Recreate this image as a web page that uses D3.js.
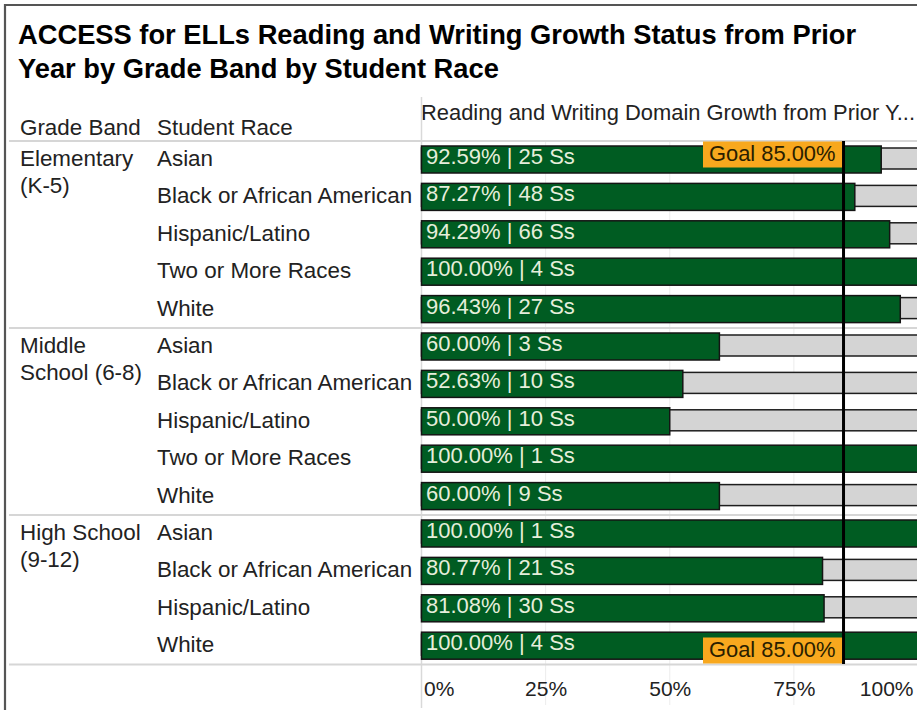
<!DOCTYPE html>
<html>
<head>
<meta charset="utf-8">
<script src="https://cdn.jsdelivr.net/npm/d3@7"></script>
<style>
  html, body { margin: 0; padding: 0; background: #fff; }
  svg { display: block; font-family: "Liberation Sans", Arial, sans-serif; }
</style>
</head>
<body>
<svg id="chart" width="917" height="710"></svg>
<script>
const titleLines = ["ACCESS for ELLs Reading and Writing Growth Status from Prior", "Year by Grade Band by Student Race"];
const gradeBands = ["Elementary (K-5)", "Middle School (6-8)", "High School (9-12)"];
const gradeBandLines = [["Elementary", "(K-5)"], ["Middle", "School (6-8)"], ["High School", "(9-12)"]];
const races = [
  ["Asian", "Black or African American", "Hispanic/Latino", "Two or More Races", "White"],
  ["Asian", "Black or African American", "Hispanic/Latino", "Two or More Races", "White"],
  ["Asian", "Black or African American", "Hispanic/Latino", "White"]
];
const pctValues = [
  [92.59, 87.27, 94.29, 100.00, 96.43],
  [60.00, 52.63, 50.00, 100.00, 60.00],
  [100.00, 80.77, 81.08, 100.00]
];
const studentCounts = [
  [25, 48, 66, 4, 27],
  [3, 10, 10, 1, 9],
  [1, 21, 30, 4]
];
const goal = 85;
const tickValues = [0, 25, 50, 75, 100];
const headerBand = "Grade Band", headerRace = "Student Race";
const headerMeasure = "Reading and Writing Domain Growth from Prior Y...";

// build rows
const rows = [];
gradeBands.forEach((g, gi) => {
  races[gi].forEach((r, ri) => {
    rows.push({band: g, gi, race: r, first: ri === 0, pct: pctValues[gi][ri], n: studentCounts[gi][ri]});
  });
});

const svg = d3.select("#chart");
const FONT = "'Liberation Sans', Arial, sans-serif";
const LBL = 22.4;

const x = d3.scaleLinear().domain([0, 100]).range([421.5, 918]);
const y = d3.scaleBand().domain(d3.range(rows.length)).range([141, 664.6]).padding(0);
const rh = y.bandwidth();

// frame
svg.append("line").attr("x1", 5).attr("x2", 5).attr("y1", 4).attr("y2", 710)
  .attr("stroke", "#555").attr("stroke-width", 2.2);
svg.append("line").attr("x1", 4).attr("x2", 917).attr("y1", 5).attr("y2", 5)
  .attr("stroke", "#555").attr("stroke-width", 2);

// title
svg.append("text").attr("x", 18).attr("font-weight", "bold").attr("font-size", 27.3)
  .attr("fill", "#000")
  .selectAll("tspan").data(titleLines).join("tspan")
  .attr("x", 18).attr("y", (d, i) => 44 + i * 34).text(d => d);

// headers
svg.append("text").attr("x", 20).attr("y", 135).attr("font-size", LBL).attr("fill", "#222").text(headerBand);
svg.append("text").attr("x", 157).attr("y", 135).attr("font-size", LBL).attr("fill", "#222").text(headerRace);
svg.append("text").attr("x", 421).attr("y", 120).attr("font-size", 21.9).attr("fill", "#222").text(headerMeasure);

// gridlines
const grid = svg.append("g");
grid.selectAll("line").data(tickValues.filter(t => t > 0 && t < 100)).join("line")
  .attr("x1", d => x(d)).attr("x2", d => x(d)).attr("y1", 141).attr("y2", 705)
  .attr("stroke", "#ececec").attr("stroke-width", 1);

// axis line (vertical at zero)
svg.append("line").attr("x1", x(0)).attr("x2", x(0)).attr("y1", 97).attr("y2", 708)
  .attr("stroke", "#d9d9d9").attr("stroke-width", 1.5);

// group separators
const sepYs = [141];
let idx = 0;
races.forEach(rs => { idx += rs.length; sepYs.push(y(idx - 1) + rh); });
svg.append("g").selectAll("line").data(sepYs).join("line")
  .attr("x1", 9).attr("x2", 917).attr("y1", d => d).attr("y2", d => d)
  .attr("stroke", "#d6d6d6").attr("stroke-width", 2);

// grade band labels
gradeBandLines.forEach((lines, gi) => {
  const firstIdx = rows.findIndex(r => r.gi === gi);
  svg.append("text").attr("font-size", LBL).attr("fill", "#222")
    .selectAll("tspan").data(lines).join("tspan")
    .attr("x", 20).attr("y", (d, i) => y(firstIdx) + 25 + i * 27).text(d => d);
});

// race labels
svg.append("g").selectAll("text").data(rows).join("text")
  .attr("x", 157).attr("y", (d, i) => y(i) + 25)
  .attr("font-size", LBL).attr("fill", "#222").text(d => d.race);

// background (100%) bars
svg.append("g").selectAll("rect").data(rows).join("rect")
  .attr("x", x(0)).attr("y", (d, i) => y(i) + 7).attr("width", x(100) - x(0)).attr("height", 21)
  .attr("fill", "#d4d4d4").attr("stroke", "#1e1e1e").attr("stroke-width", 1.5);

// value bars
svg.append("g").selectAll("rect").data(rows).join("rect")
  .attr("x", x(0)).attr("y", (d, i) => y(i) + 5).attr("width", d => x(d.pct) - x(0)).attr("height", 27)
  .attr("fill", "#005c22").attr("stroke", "#141414").attr("stroke-width", 1.5);

// value labels
svg.append("g").selectAll("text").data(rows).join("text")
  .attr("x", 426).attr("y", (d, i) => y(i) + 23)
  .attr("font-size", 22).attr("fill", "#e6eedb")
  .text(d => d3.format(".2f")(d.pct) + "% | " + d.n + " Ss");

// goal line
svg.append("line").attr("x1", x(goal)).attr("x2", x(goal)).attr("y1", 141).attr("y2", 664)
  .attr("stroke", "#000").attr("stroke-width", 3);

// goal labels
const goalText = "Goal " + d3.format(".2f")(goal) + "%";
const goalBoxes = [{y0: 141.5, base: 161}, {y0: 637.5, base: 657}];
goalBoxes.forEach(b => {
  svg.append("rect").attr("x", 703).attr("y", b.y0).attr("width", x(goal) - 1.5 - 703).attr("height", 26)
    .attr("fill", "#f8a81e");
  svg.append("text").attr("x", x(goal) - 8).attr("y", b.base).attr("text-anchor", "end")
    .attr("font-size", 21.9).attr("fill", "#2a1e00").text(goalText);
});

// axis
const axis = d3.axisBottom(x).tickValues(tickValues).tickFormat(d => d + "%").tickSize(0).tickPadding(0);
const ag = svg.append("g").attr("transform", "translate(0,681)").call(axis);
ag.select(".domain").remove();
ag.selectAll("text").attr("font-size", 21).attr("font-family", FONT).attr("fill", "#222")
  .attr("dy", "0.71em")
  .attr("text-anchor", d => d === 0 ? "start" : (d === 100 ? "end" : "middle"))
  .attr("dx", d => d === 0 ? 2 : (d === 100 ? -5 : 0));
</script>
</body>
</html>
